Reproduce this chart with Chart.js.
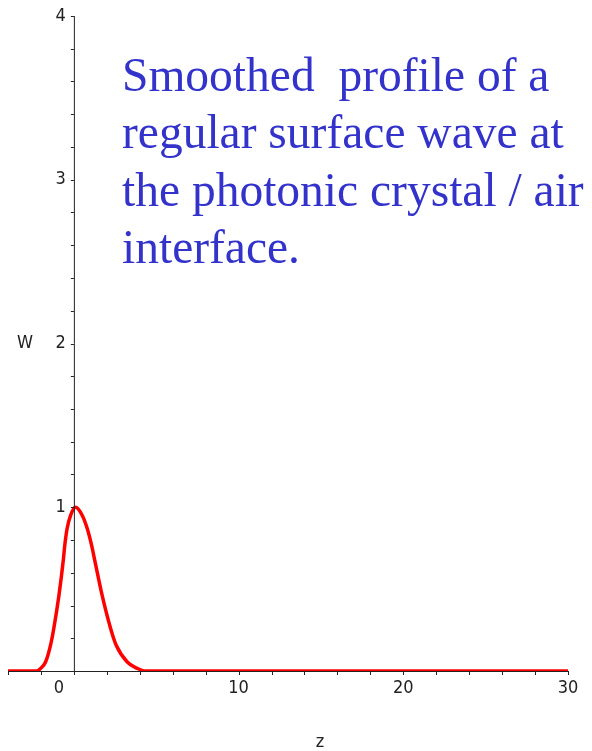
<!DOCTYPE html>
<html>
<head>
<meta charset="utf-8">
<script src="https://cdn.jsdelivr.net/npm/chart.js@4"></script>
<style>
  body { margin: 0; background: #fff; }
  #wrap { position: relative; width: 592px; height: 751px; }
  #note {
    position: absolute; left: 122px; top: 47px;
    font-family: "Liberation Serif", "Times New Roman", serif;
    font-size: 47.5px; line-height: 57.3px; color: #3333cc;
    white-space: pre;
  }
</style>
</head>
<body>
<div id="wrap">
  <canvas id="waveChart" width="592" height="751"></canvas>
  <div id="note">Smoothed  profile of a
regular surface wave at
the photonic crystal / air
interface.</div>
</div>
<script>
// profile
const zValues = [-4, -2.25, -2.02, -1.72, -1.42, -1.22, -0.91, -0.65, -0.55, -0.41, -0.2, 0.1, 0.51, 0.81, 1.07, 1.28, 1.72, 2.23, 2.57, 3.24, 3.85, 4.3, 10, 20, 30];
const wValues = [0, 0, 0.016, 0.055, 0.157, 0.26, 0.46, 0.67, 0.77, 0.87, 0.95, 1.0, 0.95, 0.87, 0.77, 0.67, 0.46, 0.26, 0.157, 0.055, 0.016, 0, 0, 0, 0];
const xTickLabels = [0, 10, 20, 30];
const yTickLabels = [1, 2, 3, 4];

const points = zValues.map((z, i) => ({ x: z, y: wValues[i] }));

// axes through the origin, Maple style
const mapleAxes = {
  id: 'mapleAxes',
  afterDatasetsDraw(chart) {
    const ctx = chart.ctx;
    const xs = chart.scales.x, ys = chart.scales.y;
    const x0 = xs.getPixelForValue(0), y0 = ys.getPixelForValue(0);
    ctx.save();
    ctx.strokeStyle = '#222';
    ctx.lineWidth = 1;
    ctx.beginPath();
    ctx.moveTo(xs.left, y0 + 0.5); ctx.lineTo(xs.right, y0 + 0.5);
    ctx.moveTo(x0 + 0.5, ys.top); ctx.lineTo(x0 + 0.5, ys.bottom);
    // minor ticks
    for (let v = -4; v <= 30; v += 2) {
      const px = Math.round(xs.getPixelForValue(v)) + 0.5;
      ctx.moveTo(px, y0); ctx.lineTo(px, y0 + 4);
    }
    for (let v = 0.2; v <= 4.01; v += 0.2) {
      const py = Math.round(ys.getPixelForValue(v)) + 0.5;
      ctx.moveTo(x0, py); ctx.lineTo(x0 - 3, py);
    }
    ctx.stroke();

    ctx.fillStyle = '#222';
    ctx.font = '18px "DejaVu Sans Condensed", "DejaVu Sans", sans-serif';
    ctx.textBaseline = 'middle';
    ctx.textAlign = 'center';
    xTickLabels.forEach(v => {
      const px = xs.getPixelForValue(v) + (v === 0 ? -15 : 0);
      ctx.fillText(String(v), px, y0 + 17);
    });
    ctx.textAlign = 'right';
    yTickLabels.forEach(v => {
      ctx.fillText(String(v), x0 - 8, ys.getPixelForValue(v));
    });
    ctx.textAlign = 'center';
    ctx.fillText('W', 25, ys.getPixelForValue(2));
    ctx.fillText('z', 320, y0 + 71);
    ctx.restore();
  }
};

new Chart(document.getElementById('waveChart').getContext('2d'), {
  type: 'scatter',
  data: {
    datasets: [{
      label: 'W',
      data: points,
      showLine: true,
      borderColor: '#ff0000',
      borderWidth: 3.5,
      pointRadius: 0,
      cubicInterpolationMode: 'monotone',
      fill: false
    }]
  },
  options: {
    responsive: false,
    animation: false,
    layout: { padding: { left: 8, top: 16, right: 24, bottom: 80 } },
    plugins: { legend: { display: false }, tooltip: { enabled: false } },
    scales: {
      x: { type: 'linear', min: -4, max: 30, display: false },
      y: { type: 'linear', min: 0, max: 4, display: false }
    }
  },
  plugins: [mapleAxes]
});
</script>
</body>
</html>
